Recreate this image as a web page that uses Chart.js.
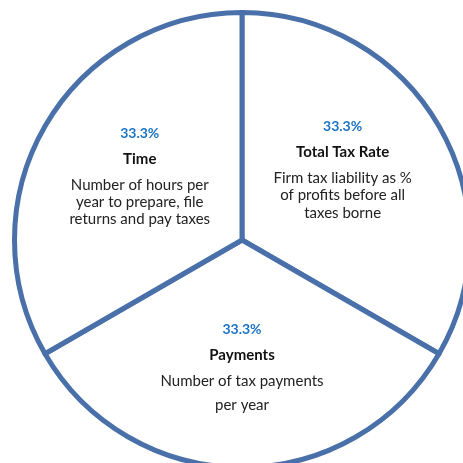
<!DOCTYPE html>
<html>
<head>
<meta charset="utf-8">
<script src="https://cdn.jsdelivr.net/npm/chart.js@4/dist/chart.umd.min.js"></script>
<style>
	html, body { margin: 0; padding: 0; background: #ffffff; overflow: hidden; }
	#wrap { width: 480px; height: 480px; }
</style>
</head>
<body>
<div id="wrap"><canvas id="chartPie"></canvas></div>
<script>
// Data
var categories = ['Total Tax Rate', 'Payments', 'Time'];
var shares = [33.3, 33.3, 33.3];
var descriptions = [
	['Firm tax liability as %', 'of profits before all', 'taxes borne'],
	['Number of tax payments', 'per year'],
	['Number of hours per', 'year to prepare, file', 'returns and pay taxes']
];

// Styles
var borderBlue = '#4a70aa';
var pctBlue = '#1a73c4';
var descLineHeight = [17.5, 24, 17];
var labelRadius = [0.54, 0.56, 0.53];
var labelAngleNudge = [-5, 0, 2];

// Draws the text block inside each slice
var sliceLabels = {
	id: 'sliceLabels',
	afterDatasetsDraw: function(chart) {
		var ctx = chart.ctx;
		var meta = chart.getDatasetMeta(0);
		ctx.save();
		ctx.textAlign = 'center';
		ctx.textBaseline = 'middle';
		meta.data.forEach(function(arc, i) {
			var p = arc.getProps(['x', 'y', 'startAngle', 'endAngle', 'outerRadius'], true);
			var mid = (p.startAngle + p.endAngle) / 2 + labelAngleNudge[i] * Math.PI / 180;
			var r = p.outerRadius * labelRadius[i];
			var cx = p.x + Math.cos(mid) * r;
			var cy = p.y + Math.sin(mid) * r;
			var lh = descLineHeight[i];
			var lines = descriptions[i];
			var total = 26 + 26 + (lines.length - 1) * lh;
			var y = cy - total / 2;
			ctx.fillStyle = pctBlue;
			ctx.font = 'bold 14px Lato';
			ctx.fillText(shares[i].toFixed(1) + '%', cx, y);
			y += 26;
			ctx.fillStyle = '#111111';
			ctx.font = 'bold 15px Lato';
			ctx.fillText(categories[i], cx, y);
			y += 26;
			ctx.fillStyle = '#222222';
			ctx.font = '15px Lato';
			lines.forEach(function(line) {
				ctx.fillText(line, cx, y);
				y += lh;
			});
		});
		ctx.restore();
	}
};

var ctx = document.getElementById('chartPie').getContext('2d');
new Chart(ctx, {
	type: 'pie',
	data: {
		labels: categories,
		datasets: [{
			data: shares,
			backgroundColor: '#ffffff',
			hoverBackgroundColor: '#ffffff',
			borderColor: borderBlue,
			hoverBorderColor: borderBlue,
			borderWidth: 5,
			hoverBorderWidth: 5,
			borderJoinStyle: 'round'
		}]
	},
	options: {
		responsive: true,
		maintainAspectRatio: false,
		animation: false,
		layout: {
			padding: { left: 12, top: 10, right: 8, bottom: 10 }
		},
		plugins: {
			legend: { display: false },
			tooltip: { enabled: false }
		}
	},
	plugins: [sliceLabels]
});
</script>
</body>
</html>
